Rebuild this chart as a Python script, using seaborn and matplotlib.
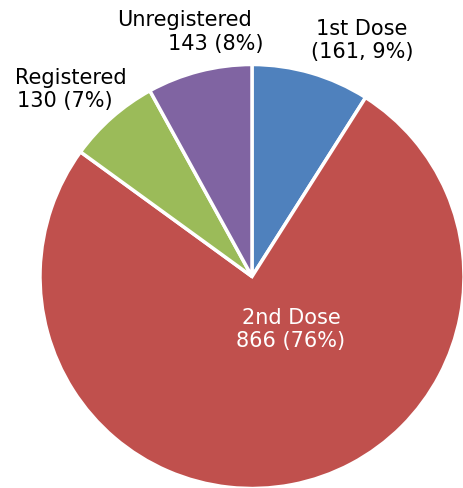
import matplotlib
matplotlib.use("Agg")
import matplotlib.pyplot as plt
import seaborn as sns

# ----------------------------------------
# Data
# ----------------------------------------
categories = ["1st Dose", "2nd Dose", "Registered", "Unregistered"]
counts = [161, 866, 130, 143]
shares = [9, 76, 7, 8]  # slice sizes follow the printed percentages
colors = ["#4F81BD", "#C0504D", "#9BBB59", "#8064A2"]
label_lines = [
    ["1st Dose", "(161, 9%)"],
    ["2nd Dose", "866 (76%)"],
    ["Registered", "130 (7%)"],
    ["Unregistered", "143 (8%)"],
]

sns.set_theme(style="white")
plt.rcParams["font.family"] = ["DejaVu Sans"]

W, H = 464, 488
fig = plt.figure(figsize=(W / 100, H / 100), dpi=100)
ax = fig.add_axes([0, 0, 1, 1])

# pie centre / radius in pixel coordinates (y measured from bottom)
cx, cy, r = 252, H - 276.5, 212
ax.pie(shares, colors=colors, startangle=90, counterclock=False,
       center=(cx, cy), radius=r, frame=True,
       wedgeprops=dict(edgecolor="white", linewidth=2.5))
ax.set_xlim(0, W)
ax.set_ylim(0, H)
ax.set_aspect("equal")
ax.axis("off")

# label placement (pixel positions of each line)
label_pos = [
    [(362, 29), (362, 52)],
    [(291, 318), (291, 341)],
    [(71, 78), (65, 101)],
    [(185, 20), (216, 44)],
]
text_colors = ["#000000", "#FFFFFF", "#000000", "#000000"]

for lines, pos, tc in zip(label_lines, label_pos, text_colors):
    for txt, (px, py) in zip(lines, pos):
        ax.text(px, H - py, txt, ha="center", va="center",
                fontsize=15, color=tc)

fig.savefig("out.png", dpi=100)
